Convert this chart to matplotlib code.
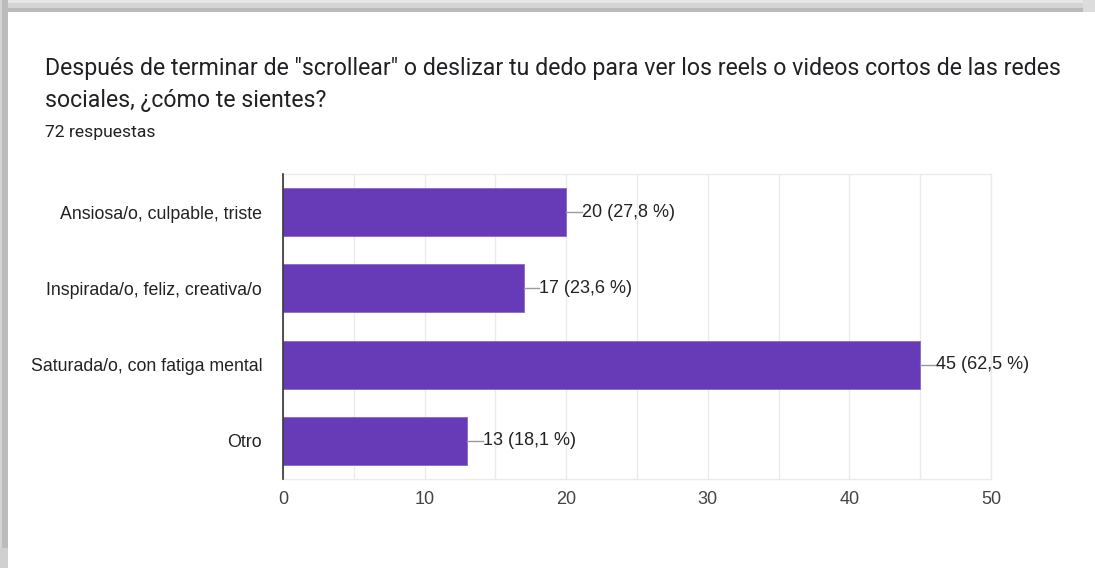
import matplotlib
matplotlib.use("Agg")
import matplotlib.pyplot as plt
from matplotlib.patches import Rectangle

categories = ["Ansiosa/o, culpable, triste",
              "Inspirada/o, feliz, creativa/o",
              "Saturada/o, con fatiga mental",
              "Otro"]
counts = [20, 17, 45, 13]
percents = ["27,8", "23,6", "62,5", "18,1"]
x_ticks = [0, 10, 20, 30, 40, 50]

title_lines = ['Después de terminar de "scrollear" o deslizar tu dedo para ver los reels o videos cortos de las redes',
               'sociales, ¿cómo te sientes?']
subtitle = "72 respuestas"

W, H = 1095, 568
fig = plt.figure(figsize=(W / 100, H / 100), dpi=100)
fig.patch.set_facecolor("white")

# card edge shading along the top and left
def px_rect(x0, y0, w, h, color):
    fig.patches.append(Rectangle((x0 / W, 1 - (y0 + h) / H), w / W, h / H,
                                 transform=fig.transFigure, facecolor=color,
                                 edgecolor="none", zorder=0))

px_rect(0, 0, W, 3, "#e6e6e6")
px_rect(0, 3, W, 5, "#d4d4d4")
px_rect(0, 8, W, 4, "#bababa")
px_rect(W - 12, 0, 12, 12, "#dcdcdc")
px_rect(0, 0, 2, H, "#d4d4d4")
px_rect(2, 0, 6, H, "#bcbcbc")
px_rect(0, H - 20, 8, 20, "#d0d0d0")

# titles
fig.text(45 / W, 1 - 68 / H, title_lines[0], fontsize=16.7, family="Roboto",
         color="#202124", va="center", ha="left")
fig.text(45 / W, 1 - 101 / H, title_lines[1], fontsize=16.7, family="Roboto",
         color="#202124", va="center", ha="left")
fig.text(45 / W, 1 - 133 / H, subtitle, fontsize=12.6, family="Roboto",
         color="#202124", va="center", ha="left")

left, right, top, bottom = 283, 991, 174, 479
ax = fig.add_axes([left / W, 1 - bottom / H, (right - left) / W, (bottom - top) / H])

ypos = list(range(len(categories)))
bar_color = "#673ab7"
ax.barh(ypos, counts, height=0.63, color=bar_color, edgecolor="#8a68c8",
        linewidth=0.6, zorder=3)
ax.set_ylim(len(categories) - 0.5, -0.5)
ax.set_xlim(0, 50)

ax.set_xticks(x_ticks)
ax.set_xticks(range(0, 51, 5), minor=True)
ax.grid(True, axis="x", which="both", color="#ebebeb", linewidth=1.0, zorder=0)
ax.set_axisbelow(True)
ax.tick_params(axis="x", which="both", length=0, pad=8.5, labelsize=13,
               labelcolor="#444444")
ax.tick_params(axis="y", length=0, pad=15, labelsize=12.8, labelcolor="#222222")
ax.set_yticks(ypos)
ax.set_yticklabels(categories, family="Liberation Sans")
for lab in ax.get_xticklabels():
    lab.set_family("Liberation Sans")

for name, sp in ax.spines.items():
    sp.set_color("#ebebeb")
    sp.set_linewidth(1.0)
ax.spines["left"].set_color("#333333")
ax.spines["left"].set_linewidth(1.2)
ax.spines["left"].set_zorder(4)

# value callouts with a short leader line
lead = 1.1
for y, v, p in zip(ypos, counts, percents):
    ax.plot([v, v + lead], [y, y], color="#999999", linewidth=1.0, zorder=4,
            clip_on=False)
    ax.text(v + lead, y, f"{v} ({p} %)", va="center", ha="left", fontsize=13,
            family="Liberation Sans", color="#222222", zorder=5, clip_on=False)

fig.savefig("out.png", dpi=100, facecolor="white")
